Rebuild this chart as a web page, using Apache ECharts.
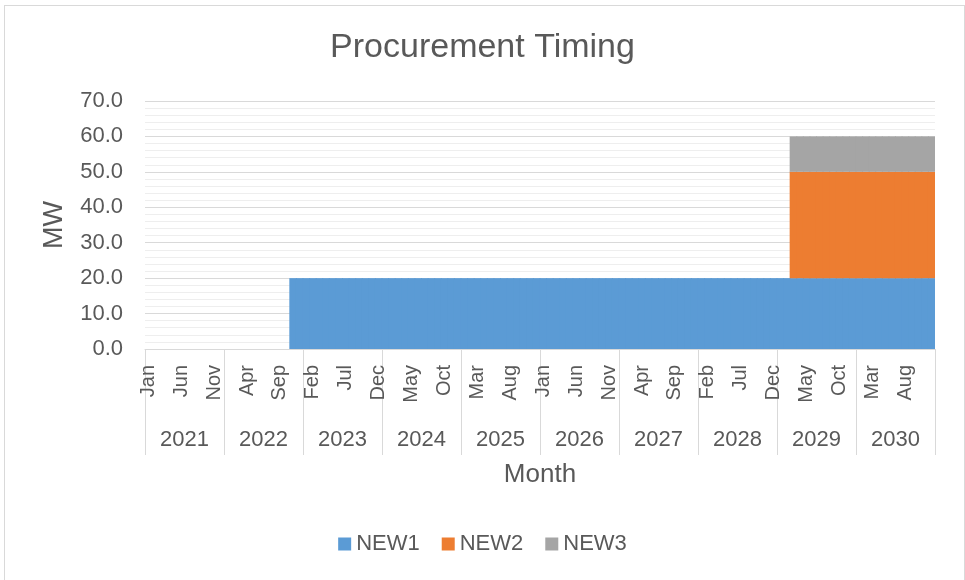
<!DOCTYPE html>
<html>
<head>
<meta charset="utf-8">
<script src="https://cdn.jsdelivr.net/npm/echarts@6/dist/echarts.min.js"></script>
<style>
  html, body { margin: 0; padding: 0; background: #fff; }
  #chart { width: 965px; height: 580px; }
  .frame {
    position: absolute;
    left: 4px;
    top: 5px;
    width: 959px;
    height: 600px;
    border: 1px solid #d9d9d9;
    pointer-events: none;
  }
</style>
</head>
<body>
<div id="chart"></div>
<div class="frame"></div>
<script>
const months = ['Jan', 'Feb', 'Mar', 'Apr', 'May', 'Jun', 'Jul', 'Aug', 'Sep', 'Oct', 'Nov', 'Dec']
const years = ['2021', '2022', '2023', '2024', '2025', '2026', '2027', '2028', '2029', '2030']

// one row per year, Jan..Dec
const new1 = [
  0, 0, 0, 0, 0, 0, 0, 0, 0, 0, 0, 0,
  0, 0, 0, 0, 0, 0, 0, 0, 0, 0, 20, 20,
  20, 20, 20, 20, 20, 20, 20, 20, 20, 20, 20, 20,
  20, 20, 20, 20, 20, 20, 20, 20, 20, 20, 20, 20,
  20, 20, 20, 20, 20, 20, 20, 20, 20, 20, 20, 20,
  20, 20, 20, 20, 20, 20, 20, 20, 20, 20, 20, 20,
  20, 20, 20, 20, 20, 20, 20, 20, 20, 20, 20, 20,
  20, 20, 20, 20, 20, 20, 20, 20, 20, 20, 20, 20,
  20, 20, 20, 20, 20, 20, 20, 20, 20, 20, 20, 20,
  20, 20, 20, 20, 20, 20, 20, 20, 20, 20, 20, 20,
]
const new2 = [
  0, 0, 0, 0, 0, 0, 0, 0, 0, 0, 0, 0,
  0, 0, 0, 0, 0, 0, 0, 0, 0, 0, 0, 0,
  0, 0, 0, 0, 0, 0, 0, 0, 0, 0, 0, 0,
  0, 0, 0, 0, 0, 0, 0, 0, 0, 0, 0, 0,
  0, 0, 0, 0, 0, 0, 0, 0, 0, 0, 0, 0,
  0, 0, 0, 0, 0, 0, 0, 0, 0, 0, 0, 0,
  0, 0, 0, 0, 0, 0, 0, 0, 0, 0, 0, 0,
  0, 0, 0, 0, 0, 0, 0, 0, 0, 0, 0, 0,
  0, 0, 30, 30, 30, 30, 30, 30, 30, 30, 30, 30,
  30, 30, 30, 30, 30, 30, 30, 30, 30, 30, 30, 30,
]
const new3 = [
  0, 0, 0, 0, 0, 0, 0, 0, 0, 0, 0, 0,
  0, 0, 0, 0, 0, 0, 0, 0, 0, 0, 0, 0,
  0, 0, 0, 0, 0, 0, 0, 0, 0, 0, 0, 0,
  0, 0, 0, 0, 0, 0, 0, 0, 0, 0, 0, 0,
  0, 0, 0, 0, 0, 0, 0, 0, 0, 0, 0, 0,
  0, 0, 0, 0, 0, 0, 0, 0, 0, 0, 0, 0,
  0, 0, 0, 0, 0, 0, 0, 0, 0, 0, 0, 0,
  0, 0, 0, 0, 0, 0, 0, 0, 0, 0, 0, 0,
  0, 0, 10, 10, 10, 10, 10, 10, 10, 10, 10, 10,
  10, 10, 10, 10, 10, 10, 10, 10, 10, 10, 10, 10,
]

// month categories, e.g. "2021 Jan", shown as month only
const categories = []
years.forEach((y) => {
  months.forEach((m) => categories.push(y + ' ' + m))
})

const font = '"Liberation Sans", Arial, sans-serif'
const textColor = '#595959'

// bars a bit wider than the band so neighbours overlap (no seams)
const barStyle = {
  type: 'bar',
  stack: 'mw',
  barWidth: 7.6,
}

const chart = echarts.init(document.getElementById('chart'))
chart.setOption({
  animation: false,
  textStyle: { fontFamily: font },
  title: {
    text: 'Procurement Timing',
    left: 'center',
    top: 26,
    textStyle: {
      fontFamily: font,
      fontSize: 34,
      fontWeight: 'normal',
      color: textColor,
    },
  },
  legend: {
    bottom: 20,
    left: 'center',
    itemWidth: 13,
    itemHeight: 13,
    itemGap: 22,
    icon: 'rect',
    textStyle: { fontFamily: font, fontSize: 22, color: textColor },
    data: ['NEW1', 'NEW2', 'NEW3'],
  },
  grid: {
    left: 145,
    right: 30,
    top: 101,
    bottom: 231,
  },
  xAxis: [
    {
      type: 'category',
      position: 'bottom',
      data: categories,
      axisLine: { lineStyle: { color: '#d9d9d9' } },
      axisTick: { show: false },
      axisLabel: {
        interval: 4,
        rotate: 90,
        margin: 16,
        fontSize: 20,
        color: textColor,
        formatter: (v) => v.split(' ')[1],
      },
    },
    {
      type: 'category',
      position: 'bottom',
      data: years,
      axisLine: { show: false },
      axisTick: { show: true, length: 106, lineStyle: { color: '#d9d9d9' } },
      axisLabel: { margin: 80, fontSize: 22, color: textColor },
      name: 'Month',
      nameLocation: 'middle',
      nameGap: 113,
      nameTextStyle: { fontFamily: font, fontSize: 26, color: textColor },
    },
  ],
  yAxis: {
    type: 'value',
    min: 0,
    max: 70,
    interval: 10,
    name: 'MW',
    nameLocation: 'middle',
    nameGap: 77,
    nameTextStyle: { fontFamily: font, fontSize: 27, color: textColor },
    axisLine: { show: false },
    axisTick: { show: false },
    axisLabel: {
      margin: 22,
      fontSize: 22,
      color: textColor,
      formatter: (v) => v.toFixed(1),
    },
    splitLine: { lineStyle: { color: '#d9d9d9' } },
    minorTick: { show: false, splitNumber: 5 },
    minorSplitLine: { show: true, lineStyle: { color: '#eeeeee' } },
  },
  series: [
    Object.assign({ name: 'NEW1', data: new1, itemStyle: { color: '#5b9bd5' } }, barStyle),
    Object.assign({ name: 'NEW2', data: new2, itemStyle: { color: '#ed7d31' } }, barStyle),
    Object.assign({ name: 'NEW3', data: new3, itemStyle: { color: '#a5a5a5' } }, barStyle),
  ],
})
</script>
</body>
</html>
